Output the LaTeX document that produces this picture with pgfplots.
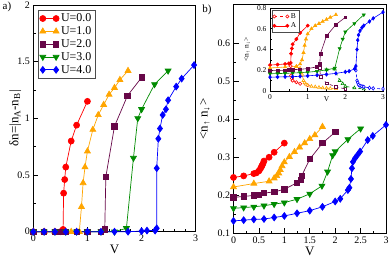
\documentclass[border=0pt]{standalone}
\usepackage{fontspec}
\setmainfont{Liberation Serif}
\usepackage{pgfplots}
\pgfplotsset{compat=1.18}
\definecolor{cred}{RGB}{255,0,0}
\definecolor{corange}{RGB}{255,165,0}
\definecolor{cmaroon}{RGB}{103,7,72}
\definecolor{cgreen}{RGB}{0,139,0}
\definecolor{cblue}{RGB}{0,0,255}
\pgfplotsset{
  base/.style={scale only axis, clip=false,
    /pgf/number format/assume math mode=true,
    xtick pos=bottom, ytick pos=left, tick align=inside,
    major tick length=5bp, minor tick length=2.5bp,
    axis line style={line width=0.9bp},
    every tick/.style={black, line width=0.6bp},
    tick label style={font=\fontsize{10}{10}\selectfont},
    every axis plot/.append style={line width=0.7bp},
    legend image code/.code={\draw[mark repeat=1,mark phase=1,#1] plot coordinates {(0bp,0bp) (13.3bp,0bp)};},
  },
  xl/.style={every axis x label/.style={at={(axis description cs:0.5,#1)}, anchor=center, font=\fontsize{13}{13}\selectfont}},
  yl/.style={every axis y label/.style={at={(axis description cs:#1,0.5)}, anchor=center, rotate=90, font=\fontsize{13}{13}\selectfont}},
  sR/.style={color=cred, mark=*, mark size=3bp},
  sO/.style={color=corange, mark=triangle*, mark size=3.4bp},
  sM/.style={color=cmaroon, mark=square*, mark size=2.7bp},
  sG/.style={color=cgreen, mark=triangle*, mark size=3.4bp, mark options={rotate=180}},
  sB/.style={color=cblue, mark=diamond*, mark size=3.4bp},
}
\begin{document}
\begin{tikzpicture}
\useasboundingbox (0bp,0bp) rectangle (390bp,257bp);
% ---------------- panel a ----------------
\begin{axis}[base, at={(33.3bp,25.3bp)}, anchor=south west, width=162.4bp, height=226.7bp,
  xmin=0, xmax=3, ymin=0, ymax=2,
  xtick={0,1,2,3}, minor x tick num=4,
  ytick={0,0.5,1,1.5,2}, minor y tick num=1,
  xl=-0.079, yl=-0.111,
  xlabel={V}, ylabel={δn=|n\textsubscript{A}-n\textsubscript{B}|},
  legend style={at={(axis description cs:0,1)}, anchor=north west, xshift=4.7bp, yshift=-5bp,
    font=\fontsize{12}{12}\selectfont, draw=black!70, line width=0.6bp, row sep=-0.6bp, inner sep=1.5bp,
    cells={anchor=west}},
]
\addplot[sR] coordinates {(0,0) (0.2,0) (0.4,0) (0.5,0) (0.55,0.02) (0.56,0.34) (0.58,0.46) (0.6,0.57) (0.7,0.8) (0.8,0.94) (1.0,1.15)};
\addlegendentry{U=0.0}
\addplot[sO] coordinates {(0,0) (0.2,0) (0.4,0) (0.6,0) (0.7,0) (0.8,0) (0.85,0) (0.89,0.22) (0.92,0.43) (0.955,0.57) (1.0,0.71) (1.1,0.9) (1.2,1.03) (1.3,1.12) (1.4,1.21) (1.5,1.27) (1.6,1.34) (1.75,1.42)};
\addlegendentry{U=1.0}
\addplot[sM] coordinates {(0,0) (0.2,0) (0.4,0) (0.5,0) (0.6,0) (0.8,0) (1.0,0) (1.25,0) (1.32,0.02) (1.34,0.485) (1.5,0.93) (1.74,1.2) (2.0,1.36)};
\addlegendentry{U=2.0}
\addplot[sG] coordinates {(0,0) (0.2,0) (0.4,0) (0.6,0) (0.8,0) (1.0,0) (1.25,0) (1.5,0) (1.72,0.03) (1.85,0.65) (1.93,1.0) (2.0,1.08) (2.24,1.3) (2.49,1.42)};
\addlegendentry{U=3.0}
\addplot[sB] coordinates {(0,0) (0.2,0) (0.4,0) (0.6,0) (0.8,0) (1.0,0) (1.25,0) (1.5,0) (1.75,0) (2.0,0.005) (2.1,0.01) (2.25,0.01) (2.28,0.03) (2.28,0.56) (2.31,0.82) (2.34,0.91) (2.39,1.03) (2.45,1.08) (2.49,1.16) (2.64,1.28) (2.74,1.35) (2.97,1.47)};
\addlegendentry{U=4.0}
\end{axis}
% ---------------- panel b ----------------
\begin{axis}[base, at={(233.5bp,23.5bp)}, anchor=south west, width=152.5bp, height=228.8bp,
  xmin=0, xmax=3, ymin=0.1, ymax=0.7,
  xtick={0,0.5,1,1.5,2,2.5,3}, xticklabels={0,0.5,1,1.5,2,2.5,3}, minor x tick num=1,
  ytick={0.1,0.2,0.3,0.4,0.5,0.6}, yticklabels={0.1,0.2,0.3,0.4,0.5,0.6}, minor y tick num=1,
  xl=-0.077, yl=-0.187,
  xlabel={V}, ylabel={<n\textsubscript{↑} n\textsubscript{↓}>},
]
\addplot[sR] coordinates {(0,0.247) (0.2,0.251) (0.4,0.257) (0.45,0.259) (0.5,0.264) (0.53,0.27) (0.55,0.275) (0.56,0.278) (0.58,0.283) (0.6,0.29) (0.7,0.3) (0.8,0.313) (1.0,0.337)};
\addplot[sO] coordinates {(0,0.222) (0.4,0.231) (0.7,0.237) (0.8,0.245) (0.85,0.251) (0.89,0.258) (0.92,0.267) (0.955,0.277) (1.0,0.287) (1.1,0.301) (1.2,0.314) (1.3,0.326) (1.4,0.337) (1.5,0.348) (1.6,0.358) (1.75,0.38)};
\addplot[sM] coordinates {(0,0.195) (0.2,0.197) (0.4,0.2) (0.5,0.202) (0.6,0.206) (0.8,0.209) (1.0,0.216) (1.25,0.233) (1.32,0.24) (1.34,0.251) (1.5,0.295) (1.75,0.337) (2.0,0.366)};
\addplot[sG] coordinates {(0,0.166) (0.2,0.168) (0.4,0.17) (0.6,0.173) (0.8,0.177) (1.0,0.181) (1.25,0.19) (1.5,0.204) (1.74,0.225) (1.85,0.262) (1.95,0.305) (2.0,0.315) (2.25,0.347) (2.5,0.375)};
\addplot[sB] coordinates {(0,0.133) (0.2,0.135) (0.4,0.137) (0.6,0.138) (0.8,0.142) (1.0,0.146) (1.25,0.153) (1.5,0.16) (1.75,0.17) (2.0,0.184) (2.1,0.191) (2.25,0.214) (2.28,0.22) (2.31,0.243) (2.33,0.271) (2.35,0.288) (2.39,0.297) (2.44,0.306) (2.49,0.315) (2.64,0.345) (2.74,0.356) (3.0,0.385)};
\end{axis}
% ---------------- inset ----------------
\begin{axis}[base, at={(270bp,166bp)}, anchor=south west, width=113bp, height=83bp,
  xmin=0, xmax=3, ymin=0, ymax=0.8,
  xtick={0,1,2,3}, minor x tick num=1,
  ytick={0,0.2,0.4,0.6,0.8}, minor y tick num=1,
  major tick length=3bp, minor tick length=1.5bp,
  tick label style={font=\fontsize{7.5}{7.5}\selectfont},
  every axis x label/.style={at={(axis description cs:0.5,-0.103)}, anchor=center, font=\fontsize{7.5}{7.5}\selectfont},
  every axis y label/.style={at={(axis description cs:-0.204,0.5)}, anchor=center, rotate=90, font=\fontsize{7.5}{7.5}\selectfont},
  xlabel={V}, ylabel={<n\textsubscript{↑} n\textsubscript{↓}>},
  every axis plot/.append style={line width=0.6bp},
  sR/.append style={mark size=1.6bp}, sO/.append style={mark size=1.8bp},
  sM/.append style={mark size=1.4bp}, sG/.append style={mark size=1.8bp}, sB/.append style={mark size=1.8bp},
  legend image code/.code={\draw[mark repeat=1,mark phase=1,#1] plot coordinates {(0bp,0bp) (13bp,0bp)};},
  legend style={at={(axis description cs:0,1)}, anchor=north west, xshift=1.5bp, yshift=-2bp,
    font=\fontsize{7.5}{7.5}\selectfont, draw=black!70, line width=0.5bp, row sep=-1bp, inner sep=1bp,
    cells={anchor=west}},
  open/.style={dashed, mark options={fill=white, solid}},
]
\addplot[sR, open] coordinates {(0.5,0.265) (0.55,0.24) (0.56,0.15) (0.58,0.12) (0.6,0.1) (0.7,0.085) (0.8,0.07) (1.0,0.055)};
\addlegendentry{B}
\addplot[sR] coordinates {(0,0.25) (0.2,0.255) (0.4,0.26) (0.5,0.265) (0.55,0.27) (0.56,0.36) (0.58,0.41) (0.6,0.45) (0.7,0.5) (0.8,0.56) (1.0,0.63)};
\addlegendentry{A}
\addplot[sO, open, forget plot] coordinates {(0.7,0.237) (0.8,0.22) (0.85,0.16) (0.89,0.1) (0.92,0.08) (0.955,0.065) (1.0,0.055) (1.1,0.045) (1.2,0.04) (1.3,0.035) (1.4,0.03) (1.5,0.028) (1.6,0.025) (1.75,0.022)};
\addplot[sO, forget plot] coordinates {(0,0.222) (0.4,0.231) (0.7,0.237) (0.8,0.26) (0.85,0.3) (0.89,0.37) (0.92,0.44) (0.955,0.5) (1.0,0.55) (1.1,0.6) (1.2,0.63) (1.3,0.65) (1.4,0.67) (1.5,0.69) (1.6,0.71) (1.75,0.735)};
\addplot[sM, open, forget plot] coordinates {(1.25,0.233) (1.32,0.22) (1.34,0.14) (1.5,0.075) (1.75,0.04) (2.0,0.02)};
\addplot[sM, forget plot] coordinates {(0,0.195) (0.2,0.197) (0.4,0.2) (0.5,0.202) (0.6,0.206) (0.8,0.209) (1.0,0.216) (1.25,0.233) (1.32,0.26) (1.34,0.36) (1.5,0.53) (1.75,0.64) (2.0,0.71)};
\addplot[sG, open, forget plot] coordinates {(1.5,0.204) (1.72,0.21) (1.85,0.1) (1.93,0.07) (2.0,0.045) (2.24,0.03) (2.49,0.02)};
\addplot[sG, forget plot] coordinates {(0,0.166) (0.2,0.168) (0.4,0.17) (0.6,0.173) (0.8,0.177) (1.0,0.181) (1.25,0.19) (1.5,0.204) (1.72,0.22) (1.85,0.41) (1.93,0.5) (2.0,0.57) (2.24,0.65) (2.49,0.735)};
\addplot[sB, open, forget plot] coordinates {(2.25,0.214) (2.28,0.2) (2.31,0.1) (2.33,0.08) (2.35,0.06) (2.39,0.05) (2.44,0.045) (2.49,0.04) (2.64,0.03) (2.74,0.025) (3.0,0.02)};
\addplot[sB, forget plot] coordinates {(0,0.133) (0.2,0.135) (0.4,0.137) (0.6,0.138) (0.8,0.142) (1.0,0.146) (1.25,0.153) (1.5,0.16) (1.75,0.17) (2.0,0.184) (2.1,0.191) (2.25,0.214) (2.28,0.24) (2.31,0.4) (2.33,0.49) (2.35,0.54) (2.39,0.58) (2.44,0.61) (2.49,0.63) (2.64,0.67) (2.74,0.7) (3.0,0.76)};
\end{axis}
\node[font=\fontsize{11}{11}\selectfont] at (7bp,250bp) {a)};
\node[font=\fontsize{11}{11}\selectfont] at (207bp,247bp) {b)};
\end{tikzpicture}
\end{document}
